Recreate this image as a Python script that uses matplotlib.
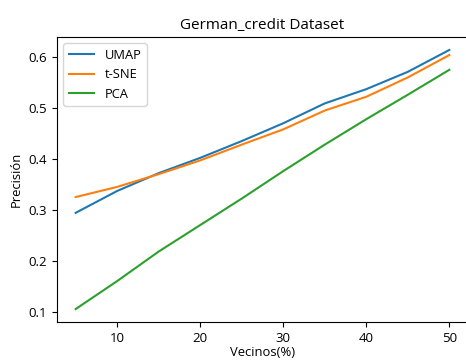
import matplotlib
matplotlib.use('Agg')
import matplotlib.pyplot as plt

plt.rcParams['font.family'] = ['Open Sans', 'DejaVu Sans']

vecinos = [5, 10, 15, 20, 25, 30, 35, 40, 45, 50]
umap = [0.294, 0.337, 0.372, 0.402, 0.435, 0.470, 0.509, 0.537, 0.571, 0.614]
tsne = [0.325, 0.345, 0.370, 0.397, 0.428, 0.458, 0.495, 0.522, 0.560, 0.604]
pca = [0.105, 0.160, 0.218, 0.270, 0.322, 0.376, 0.428, 0.478, 0.526, 0.575]

fig = plt.figure(figsize=(4.66, 3.62), dpi=100)
ax = fig.add_axes([0.1223, 0.1105, 0.882, 0.7873])

ax.plot(vecinos, umap, label='UMAP')
ax.plot(vecinos, tsne, label='t-SNE')
ax.plot(vecinos, pca, label='PCA')

ax.set_title('German_credit Dataset', fontsize=11)
ax.set_xlabel('Vecinos(%)', fontsize=9.4, labelpad=1)
ax.set_ylabel('Precisión', fontsize=9.4)
ax.tick_params(labelsize=9.5)
ax.set_yticks([0.1, 0.2, 0.3, 0.4, 0.5, 0.6])
ax.legend(loc='upper left', fontsize=9.3)

fig.savefig('out.png', dpi=100)
